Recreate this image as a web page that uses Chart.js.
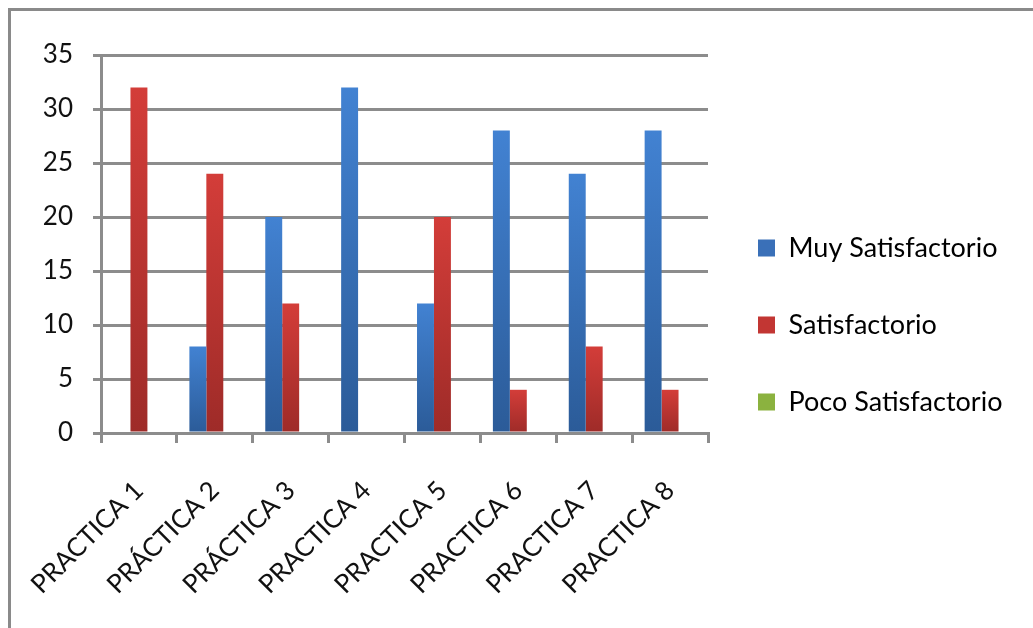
<!DOCTYPE html>
<html>
<head>
<meta charset="utf-8">
<script src="https://cdn.jsdelivr.net/npm/chart.js@4/dist/chart.umd.min.js"></script>
<style>
  html, body { margin: 0; padding: 0; background: #fff; }
  body { width: 1033px; height: 628px; overflow: hidden; position: relative; }
  #frame {
    position: absolute; left: 8px; top: 8px; width: 1040px; height: 640px;
    border-top: 3px solid #8a8a8a; border-left: 3px solid #8a8a8a;
  }
  #wrap { position: absolute; left: 11px; top: 11px; width: 1022px; height: 617px; }
</style>
</head>
<body>
<div id="frame"></div>
<div id="wrap"><canvas id="chart"></canvas></div>
<script>
// Datos
const practicas = ["PRACTICA 1", "PRÁCTICA 2", "PRÁCTICA 3", "PRACTICA 4",
                   "PRACTICA 5", "PRACTICA 6", "PRACTICA 7", "PRACTICA 8"];
const muySatisfactorio  = [0, 8, 20, 32, 12, 28, 24, 28];
const satisfactorio     = [32, 24, 12, 0, 20, 4, 8, 4];
const pocoSatisfactorio = [0, 0, 0, 0, 0, 0, 0, 0];
const yTicks = [0, 5, 10, 15, 20, 25, 30, 35];

const FONT = "Lato";
const GRID = "#8c8c8c";
const AREA_RIGHT = 697; // borde derecho del área de trazado (coords del canvas)

// degradado vertical por barra (claro arriba, oscuro abajo)
function barGradient(top, bottom) {
  return ctx => {
    const chart = ctx.chart;
    const y = chart.scales && chart.scales.y;
    if (!chart.chartArea || !y || ctx.raw === undefined) return top;
    const y0 = y.getPixelForValue(ctx.raw);
    const y1 = y.getPixelForValue(0);
    if (y1 - y0 < 1) return top;
    const g = chart.ctx.createLinearGradient(0, y0, 0, y1);
    g.addColorStop(0, top);
    g.addColorStop(1, bottom);
    return g;
  };
}

function draw() {
  const chart = new Chart(document.getElementById("chart"), {
    type: "bar",
    data: {
      labels: practicas,
      datasets: [
        { label: "Muy Satisfactorio", data: muySatisfactorio,
          backgroundColor: barGradient("#4282d2", "#2b5b98"), legendColor: "#3a70b8" },
        { label: "Satisfactorio", data: satisfactorio,
          backgroundColor: barGradient("#d33d39", "#9e2b28"), legendColor: "#c23633" },
        { label: "Poco Satisfactorio", data: pocoSatisfactorio,
          backgroundColor: barGradient("#9bc24c", "#6f9a30"), legendColor: "#8bb23f" }
      ]
    },
    options: {
      responsive: true,
      maintainAspectRatio: false,
      animation: false,
      datasets: { bar: { categoryPercentage: 0.67, barPercentage: 1.0 } },
      layout: { padding: { left: 30, top: 44, right: 20, bottom: 33 } },
      plugins: {
        tooltip: { enabled: false },
        legend: {
          position: "right",
          align: "center",
          maxWidth: 340,
          labels: {
            font: { family: FONT, size: 27 },
            color: "#111",
            boxWidth: 17,
            boxHeight: 17,
            padding: 50,
            generateLabels: c => c.data.datasets.map((d, i) => ({
              text: d.label,
              fillStyle: d.legendColor,
              strokeStyle: d.legendColor,
              lineWidth: 0,
              datasetIndex: i
            }))
          }
        }
      },
      scales: {
        x: {
          // altura fija y sin relleno lateral por las etiquetas giradas
          afterFit: s => { s.height = 162; s.paddingLeft = 0; s.paddingRight = 0; },
          grid: { display: true, drawOnChartArea: false, drawTicks: true,
                  tickLength: 10, lineWidth: 3, color: GRID },
          border: { display: true, width: 3, color: GRID },
          ticks: { font: { family: FONT, size: 26 }, color: "#111",
                   minRotation: 45, maxRotation: 45, padding: 32 }
        },
        y: {
          min: 0, max: 35,
          afterFit: s => { s.width = 60; },
          afterBuildTicks: s => { s.ticks = yTicks.map(v => ({ value: v })); },
          grid: { lineWidth: 3, color: GRID, tickLength: 8 },
          border: { display: true, width: 3, color: GRID },
          ticks: { font: { family: FONT, size: 26 }, color: "#111", padding: 20 }
        }
      }
    }
  });
  // ajustar el relleno derecho para fijar el ancho del área de trazado
  const diff = chart.chartArea.right - AREA_RIGHT;
  if (Math.abs(diff) > 0.5) {
    chart.options.layout.padding.right = Math.max(0, 20 + diff);
    chart.update();
  }
}

Promise.all([
  document.fonts.load("26px Lato"),
  document.fonts.load("27px Lato")
]).then(draw, draw);
</script>
</body>
</html>
